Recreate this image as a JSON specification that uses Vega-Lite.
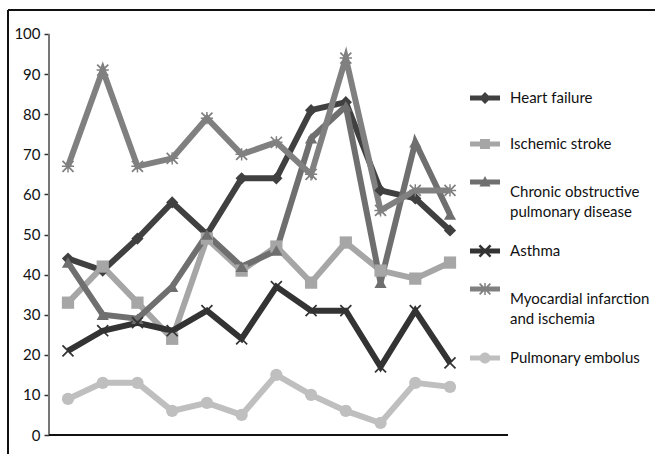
{
  "$schema": "https://vega.github.io/schema/vega-lite/v6.json",
  "width": 647,
  "height": 444,
  "padding": {"left": 8, "top": 10, "right": 0, "bottom": 0},
  "autosize": {"type": "none"},
  "background": "white",
  "config": {
    "view": {"stroke": null},
    "font": "Lato"
  },
  "resolve": {"scale": {"color": "independent", "shape": "independent"}, "legend": {"color": "independent", "shape": "independent"}},
  "data": {
    "values": [
      {"s": "Heart failure", "i": 1, "v": 44}, {"s": "Heart failure", "i": 2, "v": 41}, {"s": "Heart failure", "i": 3, "v": 49}, {"s": "Heart failure", "i": 4, "v": 58}, {"s": "Heart failure", "i": 5, "v": 50}, {"s": "Heart failure", "i": 6, "v": 64}, {"s": "Heart failure", "i": 7, "v": 64}, {"s": "Heart failure", "i": 8, "v": 81}, {"s": "Heart failure", "i": 9, "v": 83}, {"s": "Heart failure", "i": 10, "v": 61}, {"s": "Heart failure", "i": 11, "v": 59}, {"s": "Heart failure", "i": 12, "v": 51},
      {"s": "Ischemic stroke", "i": 1, "v": 33}, {"s": "Ischemic stroke", "i": 2, "v": 42}, {"s": "Ischemic stroke", "i": 3, "v": 33}, {"s": "Ischemic stroke", "i": 4, "v": 24}, {"s": "Ischemic stroke", "i": 5, "v": 49}, {"s": "Ischemic stroke", "i": 6, "v": 41}, {"s": "Ischemic stroke", "i": 7, "v": 47}, {"s": "Ischemic stroke", "i": 8, "v": 38}, {"s": "Ischemic stroke", "i": 9, "v": 48}, {"s": "Ischemic stroke", "i": 10, "v": 41}, {"s": "Ischemic stroke", "i": 11, "v": 39}, {"s": "Ischemic stroke", "i": 12, "v": 43},
      {"s": "Chronic obstructive pulmonary disease", "i": 1, "v": 43}, {"s": "Chronic obstructive pulmonary disease", "i": 2, "v": 30}, {"s": "Chronic obstructive pulmonary disease", "i": 3, "v": 29}, {"s": "Chronic obstructive pulmonary disease", "i": 4, "v": 37}, {"s": "Chronic obstructive pulmonary disease", "i": 5, "v": 50}, {"s": "Chronic obstructive pulmonary disease", "i": 6, "v": 42}, {"s": "Chronic obstructive pulmonary disease", "i": 7, "v": 46}, {"s": "Chronic obstructive pulmonary disease", "i": 8, "v": 74}, {"s": "Chronic obstructive pulmonary disease", "i": 9, "v": 82}, {"s": "Chronic obstructive pulmonary disease", "i": 10, "v": 38}, {"s": "Chronic obstructive pulmonary disease", "i": 11, "v": 73}, {"s": "Chronic obstructive pulmonary disease", "i": 12, "v": 55},
      {"s": "Asthma", "i": 1, "v": 21}, {"s": "Asthma", "i": 2, "v": 26}, {"s": "Asthma", "i": 3, "v": 28}, {"s": "Asthma", "i": 4, "v": 26}, {"s": "Asthma", "i": 5, "v": 31}, {"s": "Asthma", "i": 6, "v": 24}, {"s": "Asthma", "i": 7, "v": 37}, {"s": "Asthma", "i": 8, "v": 31}, {"s": "Asthma", "i": 9, "v": 31}, {"s": "Asthma", "i": 10, "v": 17}, {"s": "Asthma", "i": 11, "v": 31}, {"s": "Asthma", "i": 12, "v": 18},
      {"s": "Myocardial infarction and ischemia", "i": 1, "v": 67}, {"s": "Myocardial infarction and ischemia", "i": 2, "v": 91}, {"s": "Myocardial infarction and ischemia", "i": 3, "v": 67}, {"s": "Myocardial infarction and ischemia", "i": 4, "v": 69}, {"s": "Myocardial infarction and ischemia", "i": 5, "v": 79}, {"s": "Myocardial infarction and ischemia", "i": 6, "v": 70}, {"s": "Myocardial infarction and ischemia", "i": 7, "v": 73}, {"s": "Myocardial infarction and ischemia", "i": 8, "v": 65}, {"s": "Myocardial infarction and ischemia", "i": 9, "v": 94}, {"s": "Myocardial infarction and ischemia", "i": 10, "v": 56}, {"s": "Myocardial infarction and ischemia", "i": 11, "v": 61}, {"s": "Myocardial infarction and ischemia", "i": 12, "v": 61},
      {"s": "Pulmonary embolus", "i": 1, "v": 9}, {"s": "Pulmonary embolus", "i": 2, "v": 13}, {"s": "Pulmonary embolus", "i": 3, "v": 13}, {"s": "Pulmonary embolus", "i": 4, "v": 6}, {"s": "Pulmonary embolus", "i": 5, "v": 8}, {"s": "Pulmonary embolus", "i": 6, "v": 5}, {"s": "Pulmonary embolus", "i": 7, "v": 15}, {"s": "Pulmonary embolus", "i": 8, "v": 10}, {"s": "Pulmonary embolus", "i": 9, "v": 6}, {"s": "Pulmonary embolus", "i": 10, "v": 3}, {"s": "Pulmonary embolus", "i": 11, "v": 13}, {"s": "Pulmonary embolus", "i": 12, "v": 12}
    ]
  },
  "encoding": {
    "x": {"field": "i", "type": "quantitative", "scale": {"domain": [-0.7277, 17.903], "nice": false, "zero": false}, "axis": null},
    "y": {"field": "v", "type": "quantitative", "scale": {"domain": [-4.738, 105.985], "nice": false, "zero": false},
      "axis": {"values": [0, 10, 20, 30, 40, 50, 60, 70, 80, 90, 100], "offset": -41, "domain": false, "grid": false, "title": null,
        "tickSize": 5, "tickColor": "#333", "tickWidth": 1.5, "labelPadding": 4, "labelFontSize": 15, "labelColor": "#111", "labelFont": "Lato"}}
  },
  "layer": [
    {
      "mark": {"type": "rule", "color": "#111", "strokeWidth": 2},
      "encoding": {"x": {"datum": -0.7277}, "y": {"datum": -4.738}, "y2": {"datum": 105.985}}
    },
    {
      "mark": {"type": "rule", "color": "#111", "strokeWidth": 2},
      "encoding": {"y": {"datum": 105.985}, "x": {"datum": -0.7277}, "x2": {"datum": 17.903}}
    },
    {
      "mark": {"type": "rule", "color": "#777", "strokeWidth": 2},
      "encoding": {"x": {"datum": 0.453}, "y": {"datum": 0}, "y2": {"datum": 100}}
    },
    {
      "mark": {"type": "rule", "color": "#111", "strokeWidth": 2},
      "encoding": {"y": {"datum": 0}, "x": {"datum": 0.453}, "x2": {"datum": 13.67}}
    },
    {
      "mark": {"type": "line", "strokeWidth": 6, "strokeJoin": "miter"},
      "encoding": {
        "detail": {"field": "s"},
        "color": {"field": "s", "type": "nominal",
          "scale": {"domain": ["Heart failure", "Ischemic stroke", "Chronic obstructive pulmonary disease", "Asthma", "Myocardial infarction and ischemia", "Pulmonary embolus"],
            "range": ["#404040", "#a6a6a6", "#6f6f6f", "#333333", "#808080", "#bfbfbf"]},
          "legend": {"orient": "none", "legendX": 462, "legendY": 73, "padding": 0, "title": null, "symbolSize": 900, "symbolOpacity": 1, "symbolStrokeWidth": 0,
            "labelFontSize": 15, "labelColor": "#111", "labelFont": "Lato", "rowPadding": 16, "labelOffset": 10,
            "labelExpr": "datum.label == 'Chronic obstructive pulmonary disease' ? ['Chronic obstructive', 'pulmonary disease'] : datum.label == 'Myocardial infarction and ischemia' ? ['Myocardial infarction', 'and ischemia'] : datum.label",
            "encode": {
              "labels": {"update": {"lineHeight": {"value": 20}}},
              "symbols": {"update": {
                "fill": {"signal": "datum.value == 'Heart failure' ? '#404040' : datum.value == 'Ischemic stroke' ? '#a6a6a6' : datum.value == 'Chronic obstructive pulmonary disease' ? '#6f6f6f' : datum.value == 'Asthma' ? '#333333' : datum.value == 'Myocardial infarction and ischemia' ? '#808080' : '#bfbfbf'"},
                "strokeWidth": {"value": 0},
                "shape": {"signal": "datum.value == 'Heart failure' ? 'M0,-1Z M0,1Z M-1,-0.17H1V0.17H-1Z M0,-0.4L0.4,0L0,0.4L-0.4,0Z' : datum.value == 'Ischemic stroke' ? 'M0,-1Z M0,1Z M-1,-0.17H1V0.17H-1Z M-0.33,-0.33H0.33V0.33H-0.33Z' : datum.value == 'Chronic obstructive pulmonary disease' ? 'M0,-1.1Z M0,1Z M-1,-0.837H1V-0.497H-1Z M0,-1.067L0.37,-0.367H-0.37Z' : datum.value == 'Asthma' ? 'M0,-1Z M0,1Z M-1,-0.17H1V0.17H-1Z M-0.31,-0.43L0.43,0.31L0.31,0.43L-0.43,-0.31Z M0.31,-0.43L0.43,-0.31L-0.31,0.43L-0.43,0.31Z' : datum.value == 'Myocardial infarction and ischemia' ? 'M0,-1.1Z M0,1Z M-1,-0.837H1V-0.497H-1Z M-0.32,-1.067L0.4,-0.347L0.32,-0.267L-0.4,-0.987Z M0.32,-1.067L0.4,-0.987L-0.32,-0.267L-0.4,-0.347Z M-0.05,-1.067H0.05V-0.267H-0.05Z' : 'M0,-1Z M0,1Z M-1,-0.17H1V0.17H-1Z M-0.37,0A0.37,0.37 0 1,1 0.37,0A0.37,0.37 0 1,1 -0.37,0Z'"}}}
            }
          }},
        "order": {"field": "i"}
      }
    },
    {
      "mark": {"type": "point", "filled": true, "opacity": 1, "size": 150},
      "encoding": {
        "color": {"field": "s", "type": "nominal",
          "scale": {"domain": ["Heart failure", "Ischemic stroke", "Chronic obstructive pulmonary disease", "Asthma", "Myocardial infarction and ischemia", "Pulmonary embolus"],
            "range": ["#404040", "#a6a6a6", "#6f6f6f", "#333333", "#808080", "#bfbfbf"]},
          "legend": null},
        "shape": {"field": "s", "type": "nominal",
          "scale": {"domain": ["Heart failure", "Ischemic stroke", "Chronic obstructive pulmonary disease", "Asthma", "Myocardial infarction and ischemia", "Pulmonary embolus"],
            "range": ["diamond", "square", "triangle-up", "M-0.8,-1L1,0.8L0.8,1L-1,-0.8Z M0.8,-1L1,-0.8L-0.8,1L-1,0.8Z", "M-0.8,-1L1,0.8L0.8,1L-1,-0.8Z M0.8,-1L1,-0.8L-0.8,1L-1,0.8Z M-0.12,-1H0.12V1H-0.12Z M-1,-0.12H1V0.12H-1Z", "circle"]},
          "legend": null}
      }
    }
  ]
}
